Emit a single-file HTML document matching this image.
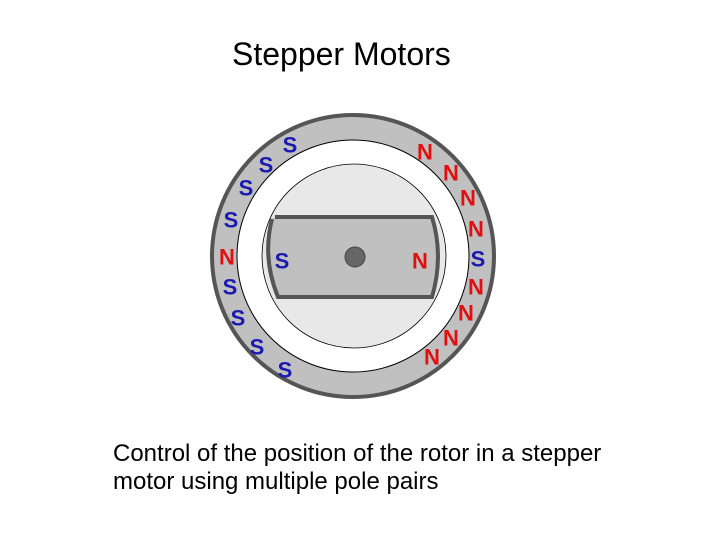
<!DOCTYPE html>
<html><head><style>
body{margin:0;background:#fff;width:720px;height:540px;overflow:hidden;font-family:"Liberation Sans",Arial,sans-serif}
</style></head><body>
<svg width="720" height="540" xmlns="http://www.w3.org/2000/svg" style="position:absolute;left:0;top:0">
<text x="232" y="65" font-size="32" fill="#000">Stepper Motors</text>
<circle cx="353" cy="256" r="141" fill="#c0c0c0" stroke="#555" stroke-width="4"/>
<circle cx="353" cy="256" r="116" fill="#fff" stroke="#000" stroke-width="1"/>
<circle cx="354" cy="256" r="92" fill="#e8e8e8" stroke="#000" stroke-width="0.8"/>
<path d="M275,217 L432,217 Q444,256 432,297 L278,297 Q262,258 272,219" fill="#c0c0c0" stroke="#555" stroke-width="4"/>
<circle cx="355" cy="257" r="10" fill="#666" stroke="#444" stroke-width="1"/>
<g font-size="22" font-weight="bold" text-anchor="middle" dominant-baseline="central">
<g fill="#1a1ab0">
<text x="290" y="145">S</text><text x="266" y="165">S</text><text x="246" y="188">S</text>
<text x="231" y="220">S</text><text x="230" y="287">S</text><text x="238" y="318">S</text>
<text x="257" y="347">S</text><text x="285" y="370">S</text><text x="478" y="259">S</text>
<text x="282" y="261">S</text>
</g>
<g fill="#e01010">
<text x="227" y="257">N</text>
<text x="425" y="152">N</text><text x="451" y="173">N</text><text x="468" y="198">N</text>
<text x="476" y="229">N</text><text x="476" y="287">N</text><text x="466" y="313">N</text>
<text x="451" y="338">N</text><text x="432" y="357">N</text><text x="420" y="261">N</text>
</g>
</g>
<text x="113" y="461" font-size="24" fill="#000">Control of the position of the rotor in a stepper</text>
<text x="113" y="489" font-size="24" fill="#000">motor using multiple pole pairs</text>
</svg>
</body></html>
